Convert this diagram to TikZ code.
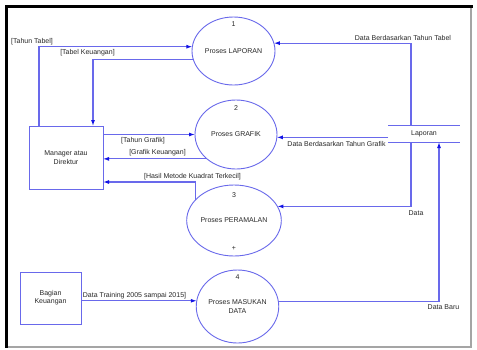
\documentclass[tikz,border=0pt]{standalone}
\usepackage{fontspec}
\setmainfont{Liberation Sans}
\usetikzlibrary{shapes.geometric,arrows.meta}
\definecolor{linec}{RGB}{105,105,235}
\definecolor{arrc}{RGB}{20,20,230}
\definecolor{txtc}{RGB}{40,40,40}
\definecolor{framegray}{RGB}{165,165,165}
\begin{document}
\begin{tikzpicture}[x=1pt,y=-1pt,
  every node/.style={font=\fontsize{7}{8.3}\selectfont, text=txtc, inner sep=0pt, outer sep=0pt},
  proc/.style={ellipse, draw=linec, line width=0.9pt, fill=white, align=center},
  ent/.style={rectangle, draw=linec, line width=0.9pt, align=center},
  flow/.style={draw=linec, line width=1.1pt, -{Latex[length=6pt,width=4pt,color=arrc]}},
  storeline/.style={draw=linec, line width=1pt}]
\useasboundingbox (0,0) rectangle (477,349);
\fill[white] (0,0) rectangle (477,349);
% frame
\draw[framegray, line width=1.3pt] (6.5,347) -- (471,347) -- (471,6.5);
\draw[black, line width=3pt] (6.5,347.5) -- (6.5,6.5) -- (473,6.5);

% processes
\node[proc, minimum width=83pt, minimum height=68pt] (p1) at (233.5,51) {Proses LAPORAN};
\node[proc, minimum width=82pt, minimum height=69pt] (p2) at (236,134.5) {Proses GRAFIK};
\node[proc, minimum width=82pt, minimum height=71pt] (p3) at (234,220.5) {Proses PERAMALAN};
\node[proc, minimum width=81pt, minimum height=73pt] (p4) at (237.5,306.5) {Proses MASUKAN\\DATA};
\node (n1) at (233.5,24) {1};
\node (n2) at (236,108) {2};
\node (n3) at (234,195) {3};
\node (n3p) at (234,248) {+};
\node (n4) at (237.5,277) {4};

% entities
\node[ent, minimum width=74pt, minimum height=63pt] (mgr) at (66,157.5) {Manager atau\\Direktur};
\node[ent, minimum width=61pt, minimum height=52pt] (bag) at (50.5,298) {Bagian\\Keuangan};

% data store
\node[minimum width=72pt, minimum height=17pt] (lap) at (424,133.5) {Laporan};
\draw[storeline] (lap.north west) -- (lap.north east);
\draw[storeline] (lap.south west) -- (lap.south east);

% flows
\draw[flow] ([xshift=10pt]mgr.north west) |- (p1.174.5);
\draw[flow] (p1.192.7) -| ([xshift=64pt]mgr.north west);
\draw[flow] ([xshift=-13pt]lap.north) |- (p1.11.2);
\draw[flow] (mgr.east |- p2.west) -- (p2.west);
\draw[flow] (p2.220.3) -- (mgr.east |- p2.220.3);
\draw[flow] (p3.152.1) |- ([yshift=-24.5pt]mgr.east);
\draw[flow] (p2.356.5 -| lap.west) -- (p2.356.5);
\draw[flow] ([xshift=-13pt]lap.south) |- (p3.18);
\draw[flow] (bag.east |- p4.172.2) -- (p4.172.2);
\draw[flow] (p4.7.8) -| ([xshift=15pt]lap.south);

% labels
\node (l1) at (32,42) {[Tahun Tabel]};
\node (l2) at (87.5,53) {[Tabel Keuangan]};
\node (l3) at (403,38) {Data Berdasarkan Tahun Tabel};
\node (l4) at (143,140.5) {[Tahun Grafik]};
\node (l5) at (157.5,152.5) {[Grafik Keuangan]};
\node (l6) at (192.5,176.5) {[Hasil Metode Kuadrat Terkecil]};
\node (l7) at (336.5,143.5) {Data Berdasarkan Tahun Grafik};
\node (l8) at (416,213.5) {Data};
\node (l9) at (134.5,296) {Data Training 2005 sampai 2015]};
\node (l10) at (443.5,307) {Data Baru};
\end{tikzpicture}
\end{document}
